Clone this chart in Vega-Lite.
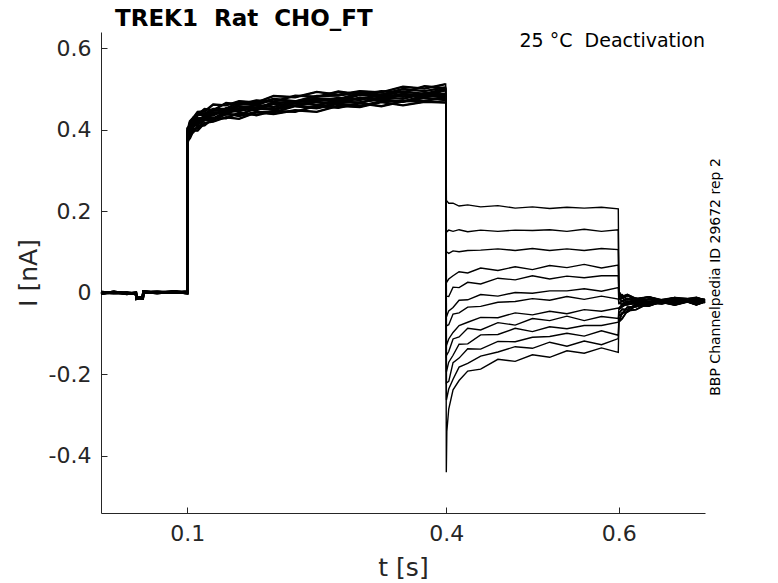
{
"$schema":"https://vega.github.io/schema/vega-lite/v6.json",
"width":604,"height":481,
"autosize":{"type":"none"},
"padding":{"left":101,"top":32,"right":73,"bottom":70},
"background":"white",
"title":{"text":"TREK1 \u00a0Rat \u00a0CHO_FT","anchor":"start","frame":"group","dx":14,"font":"DejaVu Sans","fontSize":23,"fontWeight":"bold","color":"black","offset":-17,"baseline":"alphabetic"},
"config":{"view":{"stroke":null},"axis":{"domainColor":"#262626","tickColor":"#262626","labelColor":"#262626","titleColor":"#262626","labelFont":"DejaVu Sans","titleFont":"DejaVu Sans","labelFontSize":22,"titleFontSize":25,"titleFontWeight":"normal","grid":false,"tickSize":-6,"domainWidth":1,"tickWidth":1}},
"data":{"values":[
{"s":1,"t":0,"i":-0.002},{"s":1,"t":0.015,"i":0.003},{"s":1,"t":0.03,"i":-0.002},{"s":1,"t":0.0405,"i":-0.001},{"s":1,"t":0.041,"i":-0.012},{"s":1,"t":0.0485,"i":-0.014},{"s":1,"t":0.049,"i":0.004},{"s":1,"t":0.065,"i":0},{"s":1,"t":0.085,"i":0.002},{"s":1,"t":0.0999,"i":0.002},
{"s":1,"t":0.1001,"i":0.391},{"s":1,"t":0.103,"i":0.417},{"s":1,"t":0.107,"i":0.422},{"s":1,"t":0.112,"i":0.441},{"s":1,"t":0.12,"i":0.44},{"s":1,"t":0.13,"i":0.451},{"s":1,"t":0.145,"i":0.452},{"s":1,"t":0.16,"i":0.468},{"s":1,"t":0.18,"i":0.464},{"s":1,"t":0.2,"i":0.476},{"s":1,"t":0.225,"i":0.47},{"s":1,"t":0.25,"i":0.483},{"s":1,"t":0.275,"i":0.484},{"s":1,"t":0.3,"i":0.492},{"s":1,"t":0.325,"i":0.486},{"s":1,"t":0.35,"i":0.5},{"s":1,"t":0.375,"i":0.495},{"s":1,"t":0.3995,"i":0.504},
{"s":1,"t":0.4003,"i":0.227},{"s":1,"t":0.403,"i":0.22},{"s":1,"t":0.408,"i":0.22},{"s":1,"t":0.415,"i":0.213},{"s":1,"t":0.425,"i":0.216},{"s":1,"t":0.44,"i":0.211},{"s":1,"t":0.46,"i":0.214},{"s":1,"t":0.48,"i":0.208},{"s":1,"t":0.5,"i":0.211},{"s":1,"t":0.52,"i":0.207},{"s":1,"t":0.54,"i":0.21},{"s":1,"t":0.56,"i":0.208},{"s":1,"t":0.58,"i":0.21},{"s":1,"t":0.5995,"i":0.206},
{"s":1,"t":0.6002,"i":0.003},{"s":1,"t":0.604,"i":-0.009},{"s":1,"t":0.61,"i":-0.004},{"s":1,"t":0.62,"i":-0.014},{"s":1,"t":0.635,"i":-0.01},{"s":1,"t":0.65,"i":-0.019},{"s":1,"t":0.665,"i":-0.012},{"s":1,"t":0.68,"i":-0.019},{"s":1,"t":0.69,"i":-0.014},{"s":1,"t":0.7,"i":-0.016},

{"s":2,"t":0,"i":0.002},{"s":2,"t":0.015,"i":0},{"s":2,"t":0.03,"i":-0.001},{"s":2,"t":0.0405,"i":0},{"s":2,"t":0.041,"i":-0.015},{"s":2,"t":0.0485,"i":-0.01},{"s":2,"t":0.049,"i":0.001},{"s":2,"t":0.065,"i":0.001},{"s":2,"t":0.085,"i":0.003},{"s":2,"t":0.0999,"i":-0.001},
{"s":2,"t":0.1001,"i":0.382},{"s":2,"t":0.103,"i":0.391},{"s":2,"t":0.107,"i":0.414},{"s":2,"t":0.112,"i":0.415},{"s":2,"t":0.12,"i":0.432},{"s":2,"t":0.13,"i":0.428},{"s":2,"t":0.145,"i":0.444},{"s":2,"t":0.16,"i":0.446},{"s":2,"t":0.18,"i":0.455},{"s":2,"t":0.2,"i":0.451},{"s":2,"t":0.225,"i":0.466},{"s":2,"t":0.25,"i":0.461},{"s":2,"t":0.275,"i":0.47},{"s":2,"t":0.3,"i":0.466},{"s":2,"t":0.325,"i":0.48},{"s":2,"t":0.35,"i":0.476},{"s":2,"t":0.375,"i":0.489},{"s":2,"t":0.3995,"i":0.482},
{"s":2,"t":0.4003,"i":0.149},{"s":2,"t":0.403,"i":0.154},{"s":2,"t":0.408,"i":0.151},{"s":2,"t":0.415,"i":0.155},{"s":2,"t":0.425,"i":0.15},{"s":2,"t":0.44,"i":0.154},{"s":2,"t":0.46,"i":0.151},{"s":2,"t":0.48,"i":0.154},{"s":2,"t":0.5,"i":0.153},{"s":2,"t":0.52,"i":0.155},{"s":2,"t":0.54,"i":0.151},{"s":2,"t":0.56,"i":0.156},{"s":2,"t":0.58,"i":0.151},{"s":2,"t":0.5995,"i":0.155},
{"s":2,"t":0.6002,"i":-0.008},{"s":2,"t":0.604,"i":-0.005},{"s":2,"t":0.61,"i":-0.017},{"s":2,"t":0.62,"i":-0.013},{"s":2,"t":0.635,"i":-0.024},{"s":2,"t":0.65,"i":-0.019},{"s":2,"t":0.665,"i":-0.025},{"s":2,"t":0.68,"i":-0.021},{"s":2,"t":0.69,"i":-0.023},{"s":2,"t":0.7,"i":-0.02},

{"s":3,"t":0,"i":-0.001},{"s":3,"t":0.015,"i":0.001},{"s":3,"t":0.03,"i":0},{"s":3,"t":0.0405,"i":-0.003},{"s":3,"t":0.041,"i":-0.011},{"s":3,"t":0.0485,"i":-0.013},{"s":3,"t":0.049,"i":0.002},{"s":3,"t":0.065,"i":0.002},{"s":3,"t":0.085,"i":0},{"s":3,"t":0.0999,"i":0.003},
{"s":3,"t":0.1001,"i":0.397},{"s":3,"t":0.103,"i":0.421},{"s":3,"t":0.107,"i":0.43},{"s":3,"t":0.112,"i":0.444},{"s":3,"t":0.12,"i":0.445},{"s":3,"t":0.13,"i":0.462},{"s":3,"t":0.145,"i":0.46},{"s":3,"t":0.16,"i":0.47},{"s":3,"t":0.18,"i":0.467},{"s":3,"t":0.2,"i":0.483},{"s":3,"t":0.225,"i":0.48},{"s":3,"t":0.25,"i":0.493},{"s":3,"t":0.275,"i":0.486},{"s":3,"t":0.3,"i":0.495},{"s":3,"t":0.325,"i":0.492},{"s":3,"t":0.35,"i":0.506},{"s":3,"t":0.375,"i":0.501},{"s":3,"t":0.3995,"i":0.512},
{"s":3,"t":0.4003,"i":0.101},{"s":3,"t":0.403,"i":0.097},{"s":3,"t":0.408,"i":0.103},{"s":3,"t":0.415,"i":0.101},{"s":3,"t":0.425,"i":0.104},{"s":3,"t":0.44,"i":0.105},{"s":3,"t":0.46,"i":0.108},{"s":3,"t":0.48,"i":0.104},{"s":3,"t":0.5,"i":0.109},{"s":3,"t":0.52,"i":0.104},{"s":3,"t":0.54,"i":0.108},{"s":3,"t":0.56,"i":0.104},{"s":3,"t":0.58,"i":0.109},{"s":3,"t":0.5995,"i":0.106},
{"s":3,"t":0.6002,"i":-0.004},{"s":3,"t":0.604,"i":-0.013},{"s":3,"t":0.61,"i":-0.007},{"s":3,"t":0.62,"i":-0.016},{"s":3,"t":0.635,"i":-0.01},{"s":3,"t":0.65,"i":-0.017},{"s":3,"t":0.665,"i":-0.012},{"s":3,"t":0.68,"i":-0.014},{"s":3,"t":0.69,"i":-0.011},{"s":3,"t":0.7,"i":-0.018},

{"s":4,"t":0,"i":0},{"s":4,"t":0.015,"i":0.002},{"s":4,"t":0.03,"i":-0.003},{"s":4,"t":0.0405,"i":0.001},{"s":4,"t":0.041,"i":-0.014},{"s":4,"t":0.0485,"i":-0.012},{"s":4,"t":0.049,"i":0.003},{"s":4,"t":0.065,"i":-0.001},{"s":4,"t":0.085,"i":0.004},{"s":4,"t":0.0999,"i":0},
{"s":4,"t":0.1001,"i":0.379},{"s":4,"t":0.103,"i":0.385},{"s":4,"t":0.107,"i":0.402},{"s":4,"t":0.112,"i":0.404},{"s":4,"t":0.12,"i":0.425},{"s":4,"t":0.13,"i":0.424},{"s":4,"t":0.145,"i":0.44},{"s":4,"t":0.16,"i":0.434},{"s":4,"t":0.18,"i":0.444},{"s":4,"t":0.2,"i":0.443},{"s":4,"t":0.225,"i":0.458},{"s":4,"t":0.25,"i":0.453},{"s":4,"t":0.275,"i":0.464},{"s":4,"t":0.3,"i":0.458},{"s":4,"t":0.325,"i":0.47},{"s":4,"t":0.35,"i":0.47},{"s":4,"t":0.375,"i":0.478},{"s":4,"t":0.3995,"i":0.473},
{"s":4,"t":0.4003,"i":0.025},{"s":4,"t":0.403,"i":0.034},{"s":4,"t":0.408,"i":0.042},{"s":4,"t":0.415,"i":0.052},{"s":4,"t":0.425,"i":0.049},{"s":4,"t":0.44,"i":0.061},{"s":4,"t":0.46,"i":0.055},{"s":4,"t":0.48,"i":0.064},{"s":4,"t":0.5,"i":0.057},{"s":4,"t":0.52,"i":0.067},{"s":4,"t":0.54,"i":0.062},{"s":4,"t":0.56,"i":0.07},{"s":4,"t":0.58,"i":0.061},{"s":4,"t":0.5995,"i":0.068},
{"s":4,"t":0.6002,"i":-0.015},{"s":4,"t":0.604,"i":-0.012},{"s":4,"t":0.61,"i":-0.023},{"s":4,"t":0.62,"i":-0.018},{"s":4,"t":0.635,"i":-0.026},{"s":4,"t":0.65,"i":-0.022},{"s":4,"t":0.665,"i":-0.025},{"s":4,"t":0.68,"i":-0.022},{"s":4,"t":0.69,"i":-0.029},{"s":4,"t":0.7,"i":-0.021},

{"s":5,"t":0,"i":0.001},{"s":5,"t":0.015,"i":-0.001},{"s":5,"t":0.03,"i":0.001},{"s":5,"t":0.0405,"i":-0.002},{"s":5,"t":0.041,"i":-0.013},{"s":5,"t":0.0485,"i":-0.011},{"s":5,"t":0.049,"i":0},{"s":5,"t":0.065,"i":0.003},{"s":5,"t":0.085,"i":0.001},{"s":5,"t":0.0999,"i":0.001},
{"s":5,"t":0.1001,"i":0.387},{"s":5,"t":0.103,"i":0.411},{"s":5,"t":0.107,"i":0.412},{"s":5,"t":0.112,"i":0.427},{"s":5,"t":0.12,"i":0.431},{"s":5,"t":0.13,"i":0.448},{"s":5,"t":0.145,"i":0.446},{"s":5,"t":0.16,"i":0.458},{"s":5,"t":0.18,"i":0.453},{"s":5,"t":0.2,"i":0.467},{"s":5,"t":0.225,"i":0.468},{"s":5,"t":0.25,"i":0.476},{"s":5,"t":0.275,"i":0.471},{"s":5,"t":0.3,"i":0.486},{"s":5,"t":0.325,"i":0.48},{"s":5,"t":0.35,"i":0.488},{"s":5,"t":0.375,"i":0.484},{"s":5,"t":0.3995,"i":0.499},
{"s":5,"t":0.4003,"i":-0.008},{"s":5,"t":0.403,"i":-0.009},{"s":5,"t":0.408,"i":0.014},{"s":5,"t":0.415,"i":0.013},{"s":5,"t":0.425,"i":0.026},{"s":5,"t":0.44,"i":0.022},{"s":5,"t":0.46,"i":0.036},{"s":5,"t":0.48,"i":0.032},{"s":5,"t":0.5,"i":0.042},{"s":5,"t":0.52,"i":0.034},{"s":5,"t":0.54,"i":0.041},{"s":5,"t":0.56,"i":0.037},{"s":5,"t":0.58,"i":0.042},{"s":5,"t":0.5995,"i":0.042},
{"s":5,"t":0.6002,"i":-0.012},{"s":5,"t":0.604,"i":-0.021},{"s":5,"t":0.61,"i":-0.014},{"s":5,"t":0.62,"i":-0.02},{"s":5,"t":0.635,"i":-0.016},{"s":5,"t":0.65,"i":-0.018},{"s":5,"t":0.665,"i":-0.015},{"s":5,"t":0.68,"i":-0.022},{"s":5,"t":0.69,"i":-0.014},{"s":5,"t":0.7,"i":-0.021},

{"s":6,"t":0,"i":-0.002},{"s":6,"t":0.015,"i":0.003},{"s":6,"t":0.03,"i":-0.002},{"s":6,"t":0.0405,"i":-0.001},{"s":6,"t":0.041,"i":-0.012},{"s":6,"t":0.0485,"i":-0.014},{"s":6,"t":0.049,"i":0.004},{"s":6,"t":0.065,"i":0},{"s":6,"t":0.085,"i":0.002},{"s":6,"t":0.0999,"i":0.002},
{"s":6,"t":0.1001,"i":0.373},{"s":6,"t":0.103,"i":0.379},{"s":6,"t":0.107,"i":0.398},{"s":6,"t":0.112,"i":0.398},{"s":6,"t":0.12,"i":0.417},{"s":6,"t":0.13,"i":0.42},{"s":6,"t":0.145,"i":0.431},{"s":6,"t":0.16,"i":0.427},{"s":6,"t":0.18,"i":0.443},{"s":6,"t":0.2,"i":0.439},{"s":6,"t":0.225,"i":0.448},{"s":6,"t":0.25,"i":0.444},{"s":6,"t":0.275,"i":0.459},{"s":6,"t":0.3,"i":0.456},{"s":6,"t":0.325,"i":0.468},{"s":6,"t":0.35,"i":0.46},{"s":6,"t":0.375,"i":0.469},{"s":6,"t":0.3995,"i":0.467},
{"s":6,"t":0.4003,"i":-0.059},{"s":6,"t":0.403,"i":-0.044},{"s":6,"t":0.408,"i":-0.036},{"s":6,"t":0.415,"i":-0.018},{"s":6,"t":0.425,"i":-0.017},{"s":6,"t":0.44,"i":-0.004},{"s":6,"t":0.46,"i":-0.008},{"s":6,"t":0.48,"i":0.001},{"s":6,"t":0.5,"i":-0.001},{"s":6,"t":0.52,"i":0.005},{"s":6,"t":0.54,"i":0.005},{"s":6,"t":0.56,"i":0.01},{"s":6,"t":0.58,"i":0.004},{"s":6,"t":0.5995,"i":0.013},
{"s":6,"t":0.6002,"i":-0.026},{"s":6,"t":0.604,"i":-0.02},{"s":6,"t":0.61,"i":-0.027},{"s":6,"t":0.62,"i":-0.023},{"s":6,"t":0.635,"i":-0.025},{"s":6,"t":0.65,"i":-0.023},{"s":6,"t":0.665,"i":-0.03},{"s":6,"t":0.68,"i":-0.022},{"s":6,"t":0.69,"i":-0.029},{"s":6,"t":0.7,"i":-0.022},

{"s":7,"t":0,"i":0.002},{"s":7,"t":0.015,"i":0},{"s":7,"t":0.03,"i":-0.001},{"s":7,"t":0.0405,"i":0},{"s":7,"t":0.041,"i":-0.015},{"s":7,"t":0.0485,"i":-0.01},{"s":7,"t":0.049,"i":0.001},{"s":7,"t":0.065,"i":0.001},{"s":7,"t":0.085,"i":0.003},{"s":7,"t":0.0999,"i":-0.001},
{"s":7,"t":0.1001,"i":0.393},{"s":7,"t":0.103,"i":0.412},{"s":7,"t":0.107,"i":0.415},{"s":7,"t":0.112,"i":0.436},{"s":7,"t":0.12,"i":0.437},{"s":7,"t":0.13,"i":0.448},{"s":7,"t":0.145,"i":0.447},{"s":7,"t":0.16,"i":0.463},{"s":7,"t":0.18,"i":0.461},{"s":7,"t":0.2,"i":0.475},{"s":7,"t":0.225,"i":0.468},{"s":7,"t":0.25,"i":0.477},{"s":7,"t":0.275,"i":0.475},{"s":7,"t":0.3,"i":0.49},{"s":7,"t":0.325,"i":0.484},{"s":7,"t":0.35,"i":0.494},{"s":7,"t":0.375,"i":0.488},{"s":7,"t":0.3995,"i":0.501},
{"s":7,"t":0.4003,"i":-0.081},{"s":7,"t":0.403,"i":-0.078},{"s":7,"t":0.408,"i":-0.052},{"s":7,"t":0.415,"i":-0.049},{"s":7,"t":0.425,"i":-0.035},{"s":7,"t":0.44,"i":-0.033},{"s":7,"t":0.46,"i":-0.023},{"s":7,"t":0.48,"i":-0.021},{"s":7,"t":0.5,"i":-0.014},{"s":7,"t":0.52,"i":-0.018},{"s":7,"t":0.54,"i":-0.009},{"s":7,"t":0.56,"i":-0.016},{"s":7,"t":0.58,"i":-0.008},{"s":7,"t":0.5995,"i":-0.015},
{"s":7,"t":0.6002,"i":-0.025},{"s":7,"t":0.604,"i":-0.028},{"s":7,"t":0.61,"i":-0.021},{"s":7,"t":0.62,"i":-0.02},{"s":7,"t":0.635,"i":-0.016},{"s":7,"t":0.65,"i":-0.022},{"s":7,"t":0.665,"i":-0.013},{"s":7,"t":0.68,"i":-0.02},{"s":7,"t":0.69,"i":-0.013},{"s":7,"t":0.7,"i":-0.021},

{"s":8,"t":0,"i":-0.001},{"s":8,"t":0.015,"i":0.001},{"s":8,"t":0.03,"i":0},{"s":8,"t":0.0405,"i":-0.003},{"s":8,"t":0.041,"i":-0.011},{"s":8,"t":0.0485,"i":-0.013},{"s":8,"t":0.049,"i":0.002},{"s":8,"t":0.065,"i":0.002},{"s":8,"t":0.085,"i":0},{"s":8,"t":0.0999,"i":0.003},
{"s":8,"t":0.1001,"i":0.379},{"s":8,"t":0.103,"i":0.386},{"s":8,"t":0.107,"i":0.409},{"s":8,"t":0.112,"i":0.412},{"s":8,"t":0.12,"i":0.431},{"s":8,"t":0.13,"i":0.426},{"s":8,"t":0.145,"i":0.438},{"s":8,"t":0.16,"i":0.437},{"s":8,"t":0.18,"i":0.453},{"s":8,"t":0.2,"i":0.449},{"s":8,"t":0.225,"i":0.46},{"s":8,"t":0.25,"i":0.454},{"s":8,"t":0.275,"i":0.467},{"s":8,"t":0.3,"i":0.468},{"s":8,"t":0.325,"i":0.475},{"s":8,"t":0.35,"i":0.469},{"s":8,"t":0.375,"i":0.484},{"s":8,"t":0.3995,"i":0.479},
{"s":8,"t":0.4003,"i":-0.129},{"s":8,"t":0.403,"i":-0.113},{"s":8,"t":0.408,"i":-0.097},{"s":8,"t":0.415,"i":-0.08},{"s":8,"t":0.425,"i":-0.072},{"s":8,"t":0.44,"i":-0.06},{"s":8,"t":0.46,"i":-0.061},{"s":8,"t":0.48,"i":-0.049},{"s":8,"t":0.5,"i":-0.054},{"s":8,"t":0.52,"i":-0.045},{"s":8,"t":0.54,"i":-0.051},{"s":8,"t":0.56,"i":-0.041},{"s":8,"t":0.58,"i":-0.045},{"s":8,"t":0.5995,"i":-0.037},
{"s":8,"t":0.6002,"i":-0.038},{"s":8,"t":0.604,"i":-0.029},{"s":8,"t":0.61,"i":-0.029},{"s":8,"t":0.62,"i":-0.023},{"s":8,"t":0.635,"i":-0.028},{"s":8,"t":0.65,"i":-0.019},{"s":8,"t":0.665,"i":-0.025},{"s":8,"t":0.68,"i":-0.018},{"s":8,"t":0.69,"i":-0.026},{"s":8,"t":0.7,"i":-0.019},

{"s":9,"t":0,"i":0},{"s":9,"t":0.015,"i":0.002},{"s":9,"t":0.03,"i":-0.003},{"s":9,"t":0.0405,"i":0.001},{"s":9,"t":0.041,"i":-0.014},{"s":9,"t":0.0485,"i":-0.012},{"s":9,"t":0.049,"i":0.003},{"s":9,"t":0.065,"i":-0.001},{"s":9,"t":0.085,"i":0.004},{"s":9,"t":0.0999,"i":0},
{"s":9,"t":0.1001,"i":0.381},{"s":9,"t":0.103,"i":0.401},{"s":9,"t":0.107,"i":0.407},{"s":9,"t":0.112,"i":0.428},{"s":9,"t":0.12,"i":0.429},{"s":9,"t":0.13,"i":0.442},{"s":9,"t":0.145,"i":0.439},{"s":9,"t":0.16,"i":0.453},{"s":9,"t":0.18,"i":0.455},{"s":9,"t":0.2,"i":0.464},{"s":9,"t":0.225,"i":0.459},{"s":9,"t":0.25,"i":0.474},{"s":9,"t":0.275,"i":0.469},{"s":9,"t":0.3,"i":0.478},{"s":9,"t":0.325,"i":0.473},{"s":9,"t":0.35,"i":0.487},{"s":9,"t":0.375,"i":0.484},{"s":9,"t":0.3995,"i":0.497},
{"s":9,"t":0.4003,"i":-0.154},{"s":9,"t":0.403,"i":-0.144},{"s":9,"t":0.408,"i":-0.113},{"s":9,"t":0.415,"i":-0.108},{"s":9,"t":0.425,"i":-0.087},{"s":9,"t":0.44,"i":-0.091},{"s":9,"t":0.46,"i":-0.073},{"s":9,"t":0.48,"i":-0.079},{"s":9,"t":0.5,"i":-0.063},{"s":9,"t":0.52,"i":-0.068},{"s":9,"t":0.54,"i":-0.057},{"s":9,"t":0.56,"i":-0.068},{"s":9,"t":0.58,"i":-0.058},{"s":9,"t":0.5995,"i":-0.063},
{"s":9,"t":0.6002,"i":-0.04},{"s":9,"t":0.604,"i":-0.034},{"s":9,"t":0.61,"i":-0.026},{"s":9,"t":0.62,"i":-0.027},{"s":9,"t":0.635,"i":-0.015},{"s":9,"t":0.65,"i":-0.02},{"s":9,"t":0.665,"i":-0.012},{"s":9,"t":0.68,"i":-0.019},{"s":9,"t":0.69,"i":-0.012},{"s":9,"t":0.7,"i":-0.018},

{"s":10,"t":0,"i":0.001},{"s":10,"t":0.015,"i":-0.001},{"s":10,"t":0.03,"i":0.001},{"s":10,"t":0.0405,"i":-0.002},{"s":10,"t":0.041,"i":-0.013},{"s":10,"t":0.0485,"i":-0.011},{"s":10,"t":0.049,"i":0},{"s":10,"t":0.065,"i":0.003},{"s":10,"t":0.085,"i":0.001},{"s":10,"t":0.0999,"i":0.001},
{"s":10,"t":0.1001,"i":0.404},{"s":10,"t":0.103,"i":0.409},{"s":10,"t":0.107,"i":0.43},{"s":10,"t":0.112,"i":0.437},{"s":10,"t":0.12,"i":0.451},{"s":10,"t":0.13,"i":0.448},{"s":10,"t":0.145,"i":0.466},{"s":10,"t":0.16,"i":0.462},{"s":10,"t":0.18,"i":0.472},{"s":10,"t":0.2,"i":0.469},{"s":10,"t":0.225,"i":0.484},{"s":10,"t":0.25,"i":0.481},{"s":10,"t":0.275,"i":0.494},{"s":10,"t":0.3,"i":0.487},{"s":10,"t":0.325,"i":0.495},{"s":10,"t":0.35,"i":0.492},{"s":10,"t":0.375,"i":0.507},{"s":10,"t":0.3995,"i":0.502},
{"s":10,"t":0.4003,"i":-0.194},{"s":10,"t":0.403,"i":-0.17},{"s":10,"t":0.408,"i":-0.153},{"s":10,"t":0.415,"i":-0.126},{"s":10,"t":0.425,"i":-0.125},{"s":10,"t":0.44,"i":-0.103},{"s":10,"t":0.46,"i":-0.102},{"s":10,"t":0.48,"i":-0.087},{"s":10,"t":0.5,"i":-0.095},{"s":10,"t":0.52,"i":-0.083},{"s":10,"t":0.54,"i":-0.088},{"s":10,"t":0.56,"i":-0.08},{"s":10,"t":0.58,"i":-0.08},{"s":10,"t":0.5995,"i":-0.072},
{"s":10,"t":0.6002,"i":-0.05},{"s":10,"t":0.604,"i":-0.04},{"s":10,"t":0.61,"i":-0.041},{"s":10,"t":0.62,"i":-0.028},{"s":10,"t":0.635,"i":-0.031},{"s":10,"t":0.65,"i":-0.022},{"s":10,"t":0.665,"i":-0.029},{"s":10,"t":0.68,"i":-0.021},{"s":10,"t":0.69,"i":-0.027},{"s":10,"t":0.7,"i":-0.022},

{"s":11,"t":0,"i":-0.002},{"s":11,"t":0.015,"i":0.003},{"s":11,"t":0.03,"i":-0.002},{"s":11,"t":0.0405,"i":-0.001},{"s":11,"t":0.041,"i":-0.012},{"s":11,"t":0.0485,"i":-0.014},{"s":11,"t":0.049,"i":0.004},{"s":11,"t":0.065,"i":0},{"s":11,"t":0.085,"i":0.002},{"s":11,"t":0.0999,"i":0.002},
{"s":11,"t":0.1001,"i":0.365},{"s":11,"t":0.103,"i":0.391},{"s":11,"t":0.107,"i":0.394},{"s":11,"t":0.112,"i":0.409},{"s":11,"t":0.12,"i":0.411},{"s":11,"t":0.13,"i":0.428},{"s":11,"t":0.145,"i":0.428},{"s":11,"t":0.16,"i":0.442},{"s":11,"t":0.18,"i":0.436},{"s":11,"t":0.2,"i":0.446},{"s":11,"t":0.225,"i":0.444},{"s":11,"t":0.25,"i":0.459},{"s":11,"t":0.275,"i":0.454},{"s":11,"t":0.3,"i":0.465},{"s":11,"t":0.325,"i":0.458},{"s":11,"t":0.35,"i":0.47},{"s":11,"t":0.375,"i":0.471},{"s":11,"t":0.3995,"i":0.479},
{"s":11,"t":0.4003,"i":-0.221},{"s":11,"t":0.403,"i":-0.217},{"s":11,"t":0.408,"i":-0.171},{"s":11,"t":0.415,"i":-0.16},{"s":11,"t":0.425,"i":-0.137},{"s":11,"t":0.44,"i":-0.138},{"s":11,"t":0.46,"i":-0.119},{"s":11,"t":0.48,"i":-0.12},{"s":11,"t":0.5,"i":-0.109},{"s":11,"t":0.52,"i":-0.107},{"s":11,"t":0.54,"i":-0.099},{"s":11,"t":0.56,"i":-0.106},{"s":11,"t":0.58,"i":-0.093},{"s":11,"t":0.5995,"i":-0.104},
{"s":11,"t":0.6002,"i":-0.055},{"s":11,"t":0.604,"i":-0.051},{"s":11,"t":0.61,"i":-0.035},{"s":11,"t":0.62,"i":-0.034},{"s":11,"t":0.635,"i":-0.021},{"s":11,"t":0.65,"i":-0.026},{"s":11,"t":0.665,"i":-0.017},{"s":11,"t":0.68,"i":-0.022},{"s":11,"t":0.69,"i":-0.017},{"s":11,"t":0.7,"i":-0.019},

{"s":12,"t":0,"i":0.002},{"s":12,"t":0.015,"i":0},{"s":12,"t":0.03,"i":-0.001},{"s":12,"t":0.0405,"i":0},{"s":12,"t":0.041,"i":-0.015},{"s":12,"t":0.0485,"i":-0.01},{"s":12,"t":0.049,"i":0.001},{"s":12,"t":0.065,"i":0.001},{"s":12,"t":0.085,"i":0.003},{"s":12,"t":0.0999,"i":-0.001},
{"s":12,"t":0.1001,"i":0.392},{"s":12,"t":0.103,"i":0.4},{"s":12,"t":0.107,"i":0.421},{"s":12,"t":0.112,"i":0.42},{"s":12,"t":0.12,"i":0.435},{"s":12,"t":0.13,"i":0.435},{"s":12,"t":0.145,"i":0.453},{"s":12,"t":0.16,"i":0.449},{"s":12,"t":0.18,"i":0.461},{"s":12,"t":0.2,"i":0.456},{"s":12,"t":0.225,"i":0.469},{"s":12,"t":0.25,"i":0.47},{"s":12,"t":0.275,"i":0.478},{"s":12,"t":0.3,"i":0.473},{"s":12,"t":0.325,"i":0.487},{"s":12,"t":0.35,"i":0.481},{"s":12,"t":0.375,"i":0.49},{"s":12,"t":0.3995,"i":0.486},
{"s":12,"t":0.4003,"i":-0.263},{"s":12,"t":0.403,"i":-0.236},{"s":12,"t":0.408,"i":-0.212},{"s":12,"t":0.415,"i":-0.182},{"s":12,"t":0.425,"i":-0.173},{"s":12,"t":0.44,"i":-0.155},{"s":12,"t":0.46,"i":-0.145},{"s":12,"t":0.48,"i":-0.132},{"s":12,"t":0.5,"i":-0.136},{"s":12,"t":0.52,"i":-0.121},{"s":12,"t":0.54,"i":-0.131},{"s":12,"t":0.56,"i":-0.118},{"s":12,"t":0.58,"i":-0.127},{"s":12,"t":0.5995,"i":-0.112},
{"s":12,"t":0.6002,"i":-0.07},{"s":12,"t":0.604,"i":-0.049},{"s":12,"t":0.61,"i":-0.047},{"s":12,"t":0.62,"i":-0.031},{"s":12,"t":0.635,"i":-0.032},{"s":12,"t":0.65,"i":-0.021},{"s":12,"t":0.665,"i":-0.025},{"s":12,"t":0.68,"i":-0.02},{"s":12,"t":0.69,"i":-0.021},{"s":12,"t":0.7,"i":-0.018},

{"s":13,"t":0,"i":-0.001},{"s":13,"t":0.015,"i":0.001},{"s":13,"t":0.03,"i":0},{"s":13,"t":0.0405,"i":-0.003},{"s":13,"t":0.041,"i":-0.011},{"s":13,"t":0.0485,"i":-0.013},{"s":13,"t":0.049,"i":0.002},{"s":13,"t":0.065,"i":0.002},{"s":13,"t":0.085,"i":0},{"s":13,"t":0.0999,"i":0.003},
{"s":13,"t":0.1001,"i":0.378},{"s":13,"t":0.103,"i":0.404},{"s":13,"t":0.107,"i":0.407},{"s":13,"t":0.112,"i":0.424},{"s":13,"t":0.12,"i":0.424},{"s":13,"t":0.13,"i":0.439},{"s":13,"t":0.145,"i":0.443},{"s":13,"t":0.16,"i":0.452},{"s":13,"t":0.18,"i":0.448},{"s":13,"t":0.2,"i":0.464},{"s":13,"t":0.225,"i":0.459},{"s":13,"t":0.25,"i":0.468},{"s":13,"t":0.275,"i":0.464},{"s":13,"t":0.3,"i":0.479},{"s":13,"t":0.325,"i":0.475},{"s":13,"t":0.35,"i":0.487},{"s":13,"t":0.375,"i":0.48},{"s":13,"t":0.3995,"i":0.489},
{"s":13,"t":0.4002,"i":-0.44},{"s":13,"t":0.4008,"i":-0.34},{"s":13,"t":0.403,"i":-0.285},{"s":13,"t":0.408,"i":-0.238},{"s":13,"t":0.415,"i":-0.215},{"s":13,"t":0.425,"i":-0.192},{"s":13,"t":0.44,"i":-0.187},{"s":13,"t":0.46,"i":-0.163},{"s":13,"t":0.48,"i":-0.168},{"s":13,"t":0.5,"i":-0.152},{"s":13,"t":0.52,"i":-0.158},{"s":13,"t":0.54,"i":-0.142},{"s":13,"t":0.56,"i":-0.148},{"s":13,"t":0.58,"i":-0.135},{"s":13,"t":0.5995,"i":-0.146},
{"s":13,"t":0.6002,"i":-0.071},{"s":13,"t":0.604,"i":-0.063},{"s":13,"t":0.61,"i":-0.044},{"s":13,"t":0.62,"i":-0.041},{"s":13,"t":0.635,"i":-0.025},{"s":13,"t":0.65,"i":-0.027},{"s":13,"t":0.665,"i":-0.02},{"s":13,"t":0.68,"i":-0.021},{"s":13,"t":0.69,"i":-0.017},{"s":13,"t":0.7,"i":-0.024}
]},
"layer":[
{"mark":{"type":"line","color":"black","strokeWidth":1.4},
"encoding":{
"x":{"field":"t","type":"quantitative","scale":{"domain":[0,0.7],"nice":false,"zero":false},"axis":{"values":[0.1,0.4,0.6],"format":".1f","title":"t [s]","labelPadding":33,"labelBaseline":"alphabetic","titleX":302,"titleY":62.7,"titleBaseline":"alphabetic","titleAlign":"center"}},
"y":{"field":"i","type":"quantitative","scale":{"domain":[-0.54,0.64],"nice":false,"zero":false},"axis":{"values":[-0.4,-0.2,0,0.2,0.4,0.6],"labelExpr":"'' + datum.value","title":"I [nA]","labelPadding":16,"titleX":-65,"titleY":240.5,"titleBaseline":"alphabetic","titleAngle":270,"titleAlign":"center"}},
"detail":{"field":"s","type":"nominal"}}},
{"transform":[{"filter":"datum.t < 0.4"}],
"mark":{"type":"line","color":"black","strokeWidth":2.4},
"encoding":{"x":{"field":"t","type":"quantitative"},"y":{"field":"i","type":"quantitative"},"detail":{"field":"s","type":"nominal"}}},
{"transform":[{"filter":"datum.t > 0.6"}],
"mark":{"type":"line","color":"black","strokeWidth":1.9},
"encoding":{"x":{"field":"t","type":"quantitative"},"y":{"field":"i","type":"quantitative"},"detail":{"field":"s","type":"nominal"}}},
{"data":{"values":[{}]},"mark":{"type":"text","text":"25 °C \u00a0Deactivation","font":"DejaVu Sans","fontSize":19,"color":"black","align":"right","baseline":"alphabetic"},
"encoding":{"x":{"datum":0.7,"type":"quantitative"},"y":{"datum":0.603,"type":"quantitative"}}},
{"data":{"values":[{}]},"mark":{"type":"text","text":"BBP Channelpedia ID 29672 rep 2","font":"DejaVu Sans","fontSize":14,"color":"black","align":"center","baseline":"middle","angle":270},
"encoding":{"x":{"datum":0.7127,"type":"quantitative"},"y":{"datum":0.039,"type":"quantitative"}}}
]
}
